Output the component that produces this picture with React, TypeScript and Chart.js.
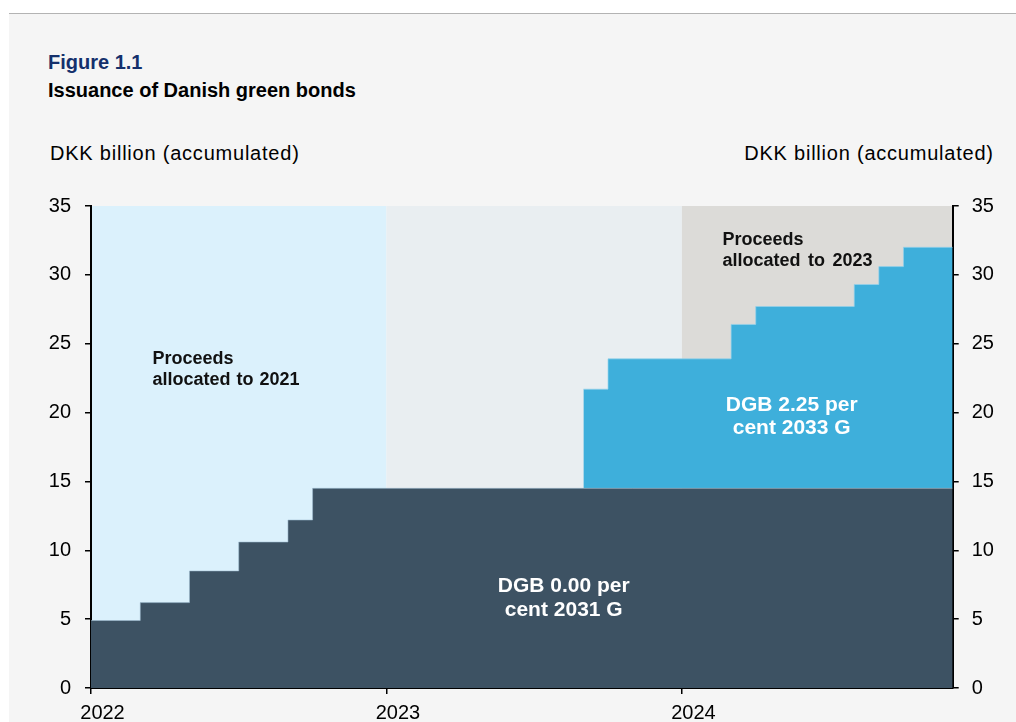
import React, { useEffect, useRef } from "react";
import { Chart, registerables } from "chart.js";

Chart.register(...registerables);

const FONT = '"Liberation Sans", Arial, Helvetica, sans-serif';

// x values are months since January 2022
const dgb2031Months = [0, 2, 4, 6, 8, 9, 35];
const dgb2031Values = [4.9, 6.2, 8.5, 10.6, 12.2, 14.5, 14.5]; // DKK bn accumulated
const dgb2033Months = [20, 21, 26, 27, 31, 32, 33, 35];
const dgb2033Values = [7.2, 9.4, 11.9, 13.2, 14.8, 16.1, 17.5, 17.5]; // DKK bn accumulated

const yearTickMonths = [0, 12, 24];
const yearLabels = ["2022", "2023", "2024"];

const periodStarts = [0, 12, 24];
const periodEnds = [12, 24, 35];
const periodColors = ["#dbf1fc", "#e9eef1", "#dcdbd8"];

const xMin = 0;
const xMax = 35;
const yMin = 0;
const yMax = 35;
const yStep = 5;

type Note = {
  lines: string[];
  x: number;
  y: number;
  align: CanvasTextAlign;
  color: string;
  size: number;
  lineH: number;
  wordSpacing: string;
};

const notes: Note[] = [
  { lines: ["Proceeds", "allocated to 2021"], x: 2.5, y: 23.5, align: "left", color: "#111111", size: 18, lineH: 21, wordSpacing: "1px" },
  { lines: ["Proceeds", "allocated to 2023"], x: 25.65, y: 32.2, align: "left", color: "#111111", size: 18, lineH: 21, wordSpacing: "2.5px" },
  { lines: ["DGB 2.25 per", "cent 2033 G"], x: 28.46, y: 20.15, align: "center", color: "#ffffff", size: 21, lineH: 23.5, wordSpacing: "0px" },
  { lines: ["DGB 0.00 per", "cent 2031 G"], x: 19.2, y: 6.97, align: "center", color: "#ffffff", size: 21, lineH: 23.5, wordSpacing: "0px" },
];

function dgb2031At(m: number): number {
  let v = 0;
  for (let i = 0; i < dgb2031Months.length; i++) {
    if (dgb2031Months[i] <= m) v = dgb2031Values[i];
  }
  return v;
}

const backgroundPlugin = {
  id: "periodBands",
  beforeDraw(chart: any) {
    const { ctx, scales } = chart;
    const x = scales.x;
    const y = scales.y;
    ctx.save();
    for (let i = 0; i < periodStarts.length; i++) {
      const x0 = x.getPixelForValue(periodStarts[i]);
      const x1 = x.getPixelForValue(periodEnds[i]);
      const top = y.getPixelForValue(yMax);
      const bottom = y.getPixelForValue(yMin);
      ctx.fillStyle = periodColors[i];
      ctx.fillRect(x0, top, x1 - x0, bottom - top);
    }
    ctx.restore();
  },
};

const notesPlugin = {
  id: "notes",
  afterDatasetsDraw(chart: any) {
    const { ctx, scales } = chart;
    ctx.save();
    ctx.textBaseline = "alphabetic";
    for (const n of notes) {
      const px = scales.x.getPixelForValue(n.x);
      const py = scales.y.getPixelForValue(n.y);
      ctx.font = `bold ${n.size}px ${FONT}`;
      try {
        (ctx as any).wordSpacing = n.wordSpacing;
      } catch (e) {
        /* ignore */
      }
      ctx.fillStyle = n.color;
      ctx.textAlign = n.align;
      n.lines.forEach((line, i) => ctx.fillText(line, px, py + i * n.lineH));
    }
    ctx.restore();
  },
};

export default function App() {
  const ref = useRef<HTMLCanvasElement | null>(null);

  useEffect(() => {
    if (!ref.current) return;
    const darkData = dgb2031Months.map((m, i) => ({ x: m, y: dgb2031Values[i] }));
    const blueData = dgb2033Months.map((m, i) => ({ x: m, y: dgb2031At(m) + dgb2033Values[i] }));
    const yTickFont = { family: FONT, size: 20 };

    const chart = new Chart(ref.current, {
      type: "line",
      data: {
        datasets: [
          {
            label: "DGB 0.00 per cent 2031 G",
            data: darkData,
            stepped: true,
            fill: "origin",
            backgroundColor: "#3d5263",
            borderColor: "rgba(160,190,210,0.55)",
            borderWidth: 1,
            pointRadius: 0,
            yAxisID: "y",
          },
          {
            label: "DGB 2.25 per cent 2033 G",
            data: blueData,
            stepped: true,
            fill: "-1",
            backgroundColor: "#3eafdb",
            borderColor: "rgba(150,210,235,0.7)",
            borderWidth: 1,
            pointRadius: 0,
            yAxisID: "y",
          },
        ],
      },
      options: {
        animation: false,
        responsive: false,
        maintainAspectRatio: false,
        layout: { padding: { top: 206, left: 0, right: 0, bottom: 0 } },
        plugins: {
          legend: { display: false },
          tooltip: { enabled: false },
          title: { display: false },
        },
        scales: {
          x: {
            type: "linear",
            min: xMin,
            max: xMax,
            position: "bottom",
            z: 1,
            afterBuildTicks: (s: any) => {
              s.ticks = yearTickMonths.map((v) => ({ value: v }));
            },
            afterFit: (s: any) => {
              s.height = 34;
            },
            ticks: {
              autoSkip: false,
              maxRotation: 0,
              labelOffset: 11.5,
              padding: 7,
              color: "#000000",
              font: yTickFont,
              callback: (v: any) => {
                const i = yearTickMonths.indexOf(Number(v));
                return i >= 0 ? yearLabels[i] : "";
              },
            },
            grid: { drawOnChartArea: false, drawTicks: true, tickLength: 6, color: "#000000", lineWidth: 1.5 },
            border: { display: true, color: "#000000", width: 2 },
          },
          y: {
            type: "linear",
            position: "left",
            min: yMin,
            max: yMax,
            z: 1,
            afterFit: (s: any) => {
              s.width = 91;
            },
            ticks: { stepSize: yStep, padding: 14, color: "#000000", font: yTickFont },
            grid: { drawOnChartArea: false, drawTicks: true, tickLength: 6, color: "#000000", lineWidth: 1.5 },
            border: { display: true, color: "#000000", width: 2 },
          },
          y2: {
            type: "linear",
            position: "right",
            min: yMin,
            max: yMax,
            z: 1,
            afterFit: (s: any) => {
              s.width = 63.3;
            },
            ticks: { stepSize: yStep, padding: 13, color: "#000000", font: yTickFont },
            grid: { drawOnChartArea: false, drawTicks: true, tickLength: 6, color: "#000000", lineWidth: 1.5 },
            border: { display: true, color: "#000000", width: 2 },
          },
        },
      },
      plugins: [backgroundPlugin, notesPlugin],
    });
    return () => chart.destroy();
  }, []);

  const textBase: React.CSSProperties = {
    position: "absolute",
    fontFamily: FONT,
    fontSize: 20,
    lineHeight: "20px",
    whiteSpace: "nowrap",
    margin: 0,
  };

  return (
    <div style={{ position: "fixed", left: 0, top: 0, width: 1016, height: 722, background: "#ffffff", overflow: "hidden" }}>
      <div
        style={{
          position: "absolute",
          left: 9,
          top: 13,
          width: 1007,
          height: 709,
          background: "#f5f5f5",
          borderTop: "1.5px solid #b3b3b3",
        }}
      />
      <div style={{ ...textBase, left: 48, top: 52.4, fontWeight: "bold", color: "#14306c" }}>Figure 1.1</div>
      <div style={{ ...textBase, left: 48, top: 80.4, fontWeight: "bold", color: "#000000" }}>Issuance of Danish green bonds</div>
      <div style={{ ...textBase, left: 50, top: 143.1, color: "#000000", letterSpacing: "0.78px" }}>DKK billion (accumulated)</div>
      <div style={{ ...textBase, right: 22.2, top: 143.1, color: "#000000", textAlign: "right", letterSpacing: "0.78px" }}>
        DKK billion (accumulated)
      </div>
      <canvas ref={ref} width={1016} height={722} style={{ position: "absolute", left: 0, top: 0, width: 1016, height: 722 }} />
    </div>
  );
}
